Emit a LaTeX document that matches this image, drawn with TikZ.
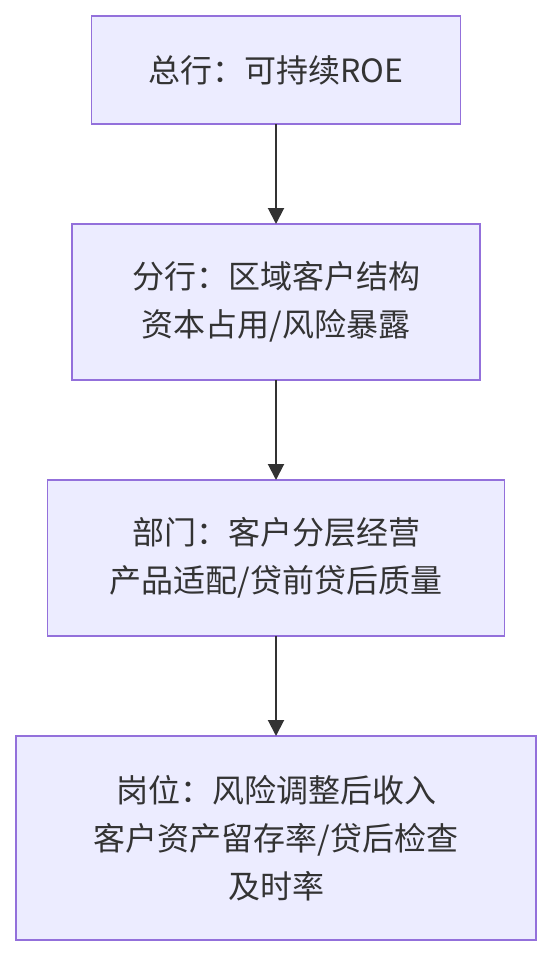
\documentclass[tikz,border=0pt]{standalone}
\usepackage{fontspec}
\setmainfont{Noto Sans CJK SC}
\usetikzlibrary{positioning,arrows.meta}
\definecolor{Fond}{HTML}{ECECFF}
\definecolor{Bord}{HTML}{9370DB}
\definecolor{Trait}{HTML}{333333}

\begin{document}
\begin{tikzpicture}[x=1pt,y=1pt,
    node distance=100pt,
    boite/.style={draw=Bord, fill=Fond, line width=1.5pt, inner sep=0pt, outer sep=0pt,
      align=center, text=Trait, font=\fontsize{32}{48}\selectfont},
    fleche/.style={draw=Trait, line width=2pt, -{Triangle[width=16pt,length=16pt]}}]
  \useasboundingbox (0,0) rectangle (552,-956);
  \node[boite, minimum width=369pt, minimum height=108pt] (zonghang) at (276,-70) {总行：可持续ROE};
  \node[boite, minimum width=408pt, minimum height=156pt, below=of zonghang] (fenhang) {分行：区域客户结构\\资本占用/风险暴露};
  \node[boite, minimum width=457pt, minimum height=156pt, below=of fenhang] (bumen) {部门：客户分层经营\\产品适配/贷前贷后质量};
  \node[boite, minimum width=520pt, minimum height=204pt, below=of bumen] (gangwei) {岗位：风险调整后收入\\客户资产留存率/贷后检查\\及时率};
  \foreach \de/\vers in {zonghang/fenhang, fenhang/bumen, bumen/gangwei}{
    \draw[fleche] (\de) -- (\vers);
  }
\end{tikzpicture}
\end{document}
